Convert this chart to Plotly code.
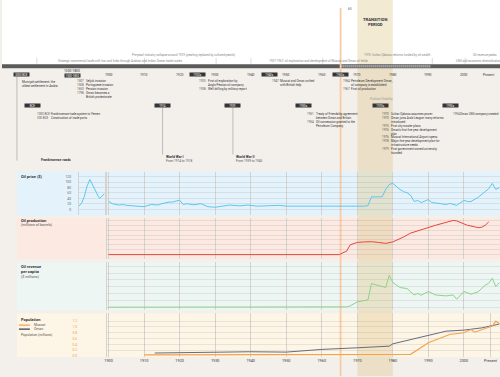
import plotly.graph_objects as go

W, H = 500, 377

# ---------------- DATA ----------------
price_early_years = [1861, 1865, 1869, 1873, 1877, 1881, 1885, 1889, 1891, 1895, 1898]
price_early = [11, 22, 47, 85, 109, 88, 65, 48, 40, 50, 58]
price_years = [1900, 1901, 1903, 1904, 1905, 1909, 1910, 1912, 1914, 1915, 1917, 1918, 1920, 1921, 1922,
               1924, 1926, 1928, 1930, 1932, 1934, 1937, 1939, 1942, 1946, 1947, 1948, 1950, 1959, 1962,
               1971, 1972, 1973, 1974, 1976, 1977, 1978, 1979, 1980, 1981, 1982, 1983, 1984, 1985, 1986,
               1987, 1988, 1990, 1991, 1993, 1995, 1996, 1998, 2000, 2001, 2002, 2004, 2006, 2007, 2008,
               2009, 2010]
price = [30, 21, 16, 18, 15, 12, 10, 18, 16, 21, 27, 27, 34, 18, 21,
         17, 21, 10, 8, 12, 16, 13, 16, 12, 15, 16, 15, 12, 12, 10,
         10, 12, 14, 46, 46, 46, 73, 91, 95, 83, 73, 65, 61, 52, 29,
         33, 25, 36, 25, 22, 18, 22, 15, 33, 29, 29, 44, 65, 76, 95,
         73, 80]

prod_years = [1900, 1965, 1966, 1967, 1968, 1969, 1970, 1972, 1974, 1976, 1978, 1980, 1981, 1983, 1985,
              1987, 1990, 1992, 1995, 1997, 1998, 2000, 2001, 2003, 2004, 2005, 2006, 2007]
prod = [0, 0, 20, 35, 100, 115, 125, 130, 132, 125, 115, 130, 145, 180, 220,
        245, 275, 300, 330, 350, 345, 310, 300, 285, 275, 280, 300, 335]

rev_years = [1900, 1965, 1967, 1968, 1970, 1973, 1974, 1977, 1978, 1979, 1980, 1982, 1984, 1986, 1987,
             1988, 1990, 1992, 1995, 1997, 1998, 2000, 2002, 2004, 2006, 2007, 2008, 2009, 2010]
rev = [0, 0, 90, 380, 1550, 2140, 6930, 6060, 5770, 9370, 7230, 5770, 5470, 3600, 4010,
       3510, 4600, 3600, 3310, 3600, 2340, 4600, 3810, 4500, 6440, 7020, 8480, 6060, 7230]

oman_years = [1913, 1930, 1940, 1950, 1960, 1970, 1979, 1980, 1990, 1995, 2000, 2005, 2010]
oman_pop = [0.26, 0.32, 0.37, 0.34, 0.57, 0.71, 0.85, 1.05, 1.80, 2.14, 2.23, 2.42, 2.75]

muscat_years = [1910, 1985, 1990, 1996, 2000, 2002, 2003, 2005, 2008, 2009, 2010]
muscat_pop = [0.04, 0.06, 0.46, 0.74, 0.80, 0.91, 0.82, 0.91, 1.03, 1.20, 1.11]

# tick labels
price_ticks = [0, 20, 40, 60, 80, 100, 120]
prod_ticks = [0, 50, 100, 150, 200, 250, 300, 350]
rev_ticks = [0, 2000, 4000, 6000, 8000, 10000, 12000]
pop_ticks = [0, 0.5, 1.0, 1.5, 2.0, 2.5, 3.0]
pop_tick_text = ['0.0', '0.50', '1.00', '1.50', '2.00', '2.50', '3.00']
muscat_ticks = [0, 0.2, 0.4, 0.6, 0.8, 1.0, 1.2]
muscat_tick_text = ['0.0', '0.2', '0.4', '0.6', '0.8', '1.0', '1.2']
decade_years = list(range(1900, 2001, 10))
bottom_years = decade_years + [2007.5]
bottom_labels = [str(y) for y in decade_years] + ['Present']
early_tick_years = [1861, 1891]
early_tick_labels = ['1861', '1899']
timeline_years = decade_years + [2007]
timeline_labels = [str(y) for y in decade_years] + ['Present']

# ---------------- helpers ----------------
def X(px):
    return px / W

def Y(py):
    return 1 - py / H

FONT = 'Roboto'
EARLY_RANGE = [1861, 1898]
MAIN_RANGE = [1899.44, 2010.17]

def yrange(top, bot, y0, y1, v1):
    s = (y0 - y1) / v1
    return [(y0 - bot) / s, (y0 - top) / s]

panels = [
    dict(top=172, bot=216, bg='#e4f3fb', rng=yrange(172, 216, 210, 177, 120), ticks=price_ticks,
         text=[str(t) for t in price_ticks]),
    dict(top=219, bot=260, bg='#fbe9e2', rng=yrange(219, 260, 255.3, 221, 350), ticks=prod_ticks,
         text=[str(t) for t in prod_ticks]),
    dict(top=263, bot=311, bg='#eef6f3', rng=yrange(263, 311, 308, 267, 12000), ticks=rev_ticks,
         text=['{:,}'.format(t) for t in rev_ticks]),
    dict(top=314, bot=358, bg='#fdf5e6', rng=yrange(314, 358, 357, 322, 3.0), ticks=pop_ticks,
         text=pop_tick_text),
]
muscat_rng = yrange(314, 358, 357, 322, 1.2)

fig = go.Figure()

# traces
fig.add_trace(go.Scatter(x=price_early_years, y=price_early, xaxis='x', yaxis='y', mode='lines',
                         line=dict(color='#5cc6ee', width=1), hoverinfo='skip'))
fig.add_trace(go.Scatter(x=price_years, y=price, xaxis='x2', yaxis='y2', mode='lines',
                         line=dict(color='#5cc6ee', width=1), hoverinfo='skip'))
fig.add_trace(go.Scatter(x=prod_years, y=prod, xaxis='x4', yaxis='y4', mode='lines',
                         line=dict(color='#e8463c', width=1), hoverinfo='skip'))
fig.add_trace(go.Scatter(x=rev_years, y=rev, xaxis='x6', yaxis='y6', mode='lines',
                         line=dict(color='#8ed28c', width=1), hoverinfo='skip'))
fig.add_trace(go.Scatter(x=oman_years, y=oman_pop, xaxis='x8', yaxis='y8', mode='lines',
                         line=dict(color='#676b7c', width=1), hoverinfo='skip'))
fig.add_trace(go.Scatter(x=muscat_years, y=muscat_pop, xaxis='x8', yaxis='y9', mode='lines',
                         line=dict(color='#f5a34e', width=1.2), hoverinfo='skip'))

layout = dict(
    width=W, height=H, margin=dict(l=0, r=0, t=0, b=0), showlegend=False,
    paper_bgcolor='#f3efeb', plot_bgcolor='rgba(0,0,0,0)',
    font=dict(family=FONT, size=4, color='#444'),
)
GRID = 'rgba(120,120,120,0.15)'
VLINE = '#d6d3cf'
for i, p in enumerate(panels):
    a, b = 2 * i + 1, 2 * i + 2
    dom = [Y(p['bot']), Y(p['top'])]
    last = (i == 3)
    layout['xaxis' if a == 1 else f'xaxis{a}'] = dict(
        domain=[X(77), X(103)], range=EARLY_RANGE, anchor=f'y{a}' if a > 1 else 'y',
        showgrid=False, zeroline=False, ticks='',
        showticklabels=last, tickvals=early_tick_years, ticktext=early_tick_labels,
        tickfont=dict(size=3.8, color='#333'))
    layout[f'xaxis{b}'] = dict(
        domain=[X(105), 1], range=MAIN_RANGE, anchor=f'y{b}',
        showgrid=True, gridcolor=VLINE, gridwidth=1, zeroline=False,
        ticks='', showticklabels=last,
        tickvals=bottom_years if last else decade_years,
        ticktext=bottom_labels if last else [str(y) for y in decade_years],
        tickfont=dict(size=3.8, color='#333'))
    layout['yaxis' if a == 1 else f'yaxis{a}'] = dict(
        domain=dom, range=p['rng'], anchor='x' if a == 1 else f'x{a}',
        tickvals=p['ticks'], ticktext=p['text'], ticks='outside',
        ticklen=10 if last else 6, tickcolor='rgba(0,0,0,0)',
        tickfont=dict(size=3.3, color='#666'), showgrid=True, gridcolor=GRID, gridwidth=1,
        zeroline=False, showline=True, mirror=True, linecolor=VLINE, linewidth=1)
    layout[f'yaxis{b}'] = dict(
        domain=dom, range=p['rng'], anchor=f'x{b}', tickvals=p['ticks'],
        showticklabels=False, ticks='', showgrid=True, gridcolor=GRID, gridwidth=1,
        zeroline=False, showline=True, linecolor=VLINE, linewidth=1)
layout['yaxis9'] = dict(
    overlaying='y8', range=muscat_rng, anchor='free', position=X(77), side='left',
    tickvals=muscat_ticks, ticktext=muscat_tick_text, ticks='outside', ticklen=1,
    tickcolor='rgba(0,0,0,0)', tickfont=dict(size=3.3, color='#f0a050'), showgrid=False,
    zeroline=False, showline=False)

shapes = []
# white top area
shapes.append(dict(type='rect', xref='paper', yref='paper', x0=0, x1=1, y0=Y(65), y1=1,
                   fillcolor='white', line=dict(width=0), layer='below'))
# panel backgrounds
for p in panels:
    shapes.append(dict(type='rect', xref='paper', yref='paper', x0=X(15), x1=1,
                       y0=Y(p['bot']), y1=Y(p['top']), fillcolor=p['bg'], line=dict(width=0),
                       layer='below'))
# transition period band
shapes.append(dict(type='rect', xref='x8', yref='paper', x0=1970, x1=1980, y0=0, y1=1,
                   fillcolor='rgba(222,198,135,0.36)', line=dict(width=0), layer='below'))
# timeline bar
shapes.append(dict(type='rect', xref='paper', yref='paper', x0=0, x1=1, y0=Y(68.5), y1=Y(64.5),
                   fillcolor='#5b5b5b', line=dict(width=0), layer='below'))
shapes.append(dict(type='line', xref='x8', yref='paper', x0=1965.3, x1=1990.7, y0=Y(66.5), y1=Y(66.5),
                   line=dict(color='#cfcfcf', width=2.5, dash='1px,1px'), layer='below'))
# orange marker line
shapes.append(dict(type='line', xref='x8', yref='paper', x0=1965.3, x1=1965.3, y0=0, y1=Y(8),
                   line=dict(color='#f7cba6', width=1.8), layer='below'))
# event lines
shapes.append(dict(type='line', xref='paper', yref='paper', x0=X(15), x1=X(15), y0=Y(161), y1=Y(77),
                   line=dict(color='#b0b0b0', width=0.8), layer='below'))
for yr in [1915.2, 1935.0]:
    shapes.append(dict(type='line', xref='x8', yref='paper', x0=yr, x1=yr, y0=Y(155), y1=Y(108),
                       line=dict(color='#b0b0b0', width=0.8), layer='below'))
# small top ticks
for xp in [35, 143, 215, 250, 322, 432, 465]:
    shapes.append(dict(type='line', xref='paper', yref='paper', x0=X(xp), x1=X(xp), y0=Y(64), y1=Y(58),
                       line=dict(color='#d0d0d0', width=0.8), layer='below'))
# population legend swatches
shapes.append(dict(type='line', xref='paper', yref='paper', x0=X(17), x1=X(28), y0=Y(326), y1=Y(326),
                   line=dict(color='#f5a34e', width=1.3)))
shapes.append(dict(type='line', xref='paper', yref='paper', x0=X(17), x1=X(28), y0=Y(330), y1=Y(330),
                   line=dict(color='#3f4358', width=1.3)))
layout['shapes'] = shapes

ann = []

def text(x, y, s, size=3.3, color='#333', xanchor='left', xref='paper', yanchor='middle', xshift=0):
    ann.append(dict(x=x if xref != 'paper' else X(x), xref=xref, y=Y(y), yref='paper', text=s,
                    showarrow=False, font=dict(size=size, color=color, family=FONT),
                    xanchor=xanchor, yanchor=yanchor, align='left', xshift=xshift))

def box(x, y, label, xref='paper'):
    ann.append(dict(x=x if xref != 'paper' else X(x), xref=xref, y=Y(y), yref='paper', text=label,
                    showarrow=False, font=dict(size=2.8, color='white', family=FONT),
                    bgcolor='#353535', width=15, height=3.2, borderpad=0,
                    xanchor='center', yanchor='middle'))

def block(x, y, years, lines, xref='paper', gap=8.5):
    text(x, y, '<br>'.join(years), size=3.0, color='#555', xref=xref, yanchor='top')
    text(x, y, '<br>'.join(lines), size=3.0, color='#333', xref=xref, yanchor='top', xshift=gap)

# timeline labels
text(70, 71, '1500-1800', size=3.3, xanchor='center')
for yr, lab in zip(timeline_years, timeline_labels):
    ann.append(dict(x=yr, xref='x8', y=Y(71), yref='paper', text=lab, showarrow=False,
                    font=dict(size=3.3, color='#333', family=FONT), xanchor='center'))

# top notes
text(182, 55, 'Pre-pearl industry collapse around 1929 (pearling replaced by cultured pearls)',
     size=3.0, color='#888', xanchor='center')
text(118, 61, 'Strategic commercial trade with Iran and India through Arabian and Indian Ocean trade routes',
     size=3.0, color='#888', xanchor='center')
text(318, 61, '1937-1967: oil exploration and development of Muscat and Oman oil fields',
     size=3.0, color='#888', xanchor='center')
text(397, 55, '1970: Sultan Qaboos reforms funded by oil wealth', size=3.0, color='#888', xanchor='center')
text(485, 55, 'Oil revenue peaks', size=3.0, color='#888', xanchor='center')
text(478, 61, 'LNG and economic diversification', size=3.0, color='#888', xanchor='center')
text(345, 9, '65', size=3.2, color='#555')
ann.append(dict(x=1975, xref='x8', y=Y(15), yref='paper', text='<b>TRANSITION<br>PERIOD</b>',
                showarrow=False, font=dict(size=4.2, color='#333', family=FONT), xanchor='center'))

# row 1 events
box(19.5, 75, '3000 BCE')
text(18.3, 78, 'Mumiyah settlement: the<br>oldest settlement in Arabia', size=3.0, yanchor='top')
box(71, 75.5, '1500-1800')
block(73.3, 77.5, ['1507', '1508', '1650', '1798', ''],
      ['Seljuk invasion', 'Portuguese invasion', 'Persian invasion', 'Oman becomes a',
       'British protectorate'])
box(1925, 75, '1920s', xref='x8')
block(1925, 77.5, ['1925', '', '1938'],
      ['First oil exploration by', 'Anglo-Persian oil company', 'Well drilling by military report'],
      xref='x8')
box(1945.3, 75, '1940s', xref='x8')
block(1945.3, 77.5, ['1947', ''], ['Muscat and Oman unified', 'with British help'], xref='x8')
box(1965.3, 75, '1960s', xref='x8')
block(1965.3, 77.5, ['1964', '', '1967'],
      ['Petroleum Development Oman,', 'oil company is established', 'First oil production'], xref='x8')

# row 2 events
box(31, 106, 'BCE')
block(33, 110.5, ['1000 BCE', '300 BCE'],
      ['Frankincense trade system to Yemen', 'Construction of trade ports'], gap=14)
box(1915.2, 106, '1914', xref='x8')
box(1935.0, 106, '1939', xref='x8')
box(1955, 106, '1950s', xref='x8')
block(1955.4, 110.5, ['1951', '', '1954', ''],
      ['Treaty of Friendship agreement', 'between Oman and Britain', 'Oil concession granted to the',
       'Petroleum Company'], xref='x8')
box(1976.5, 106, '1970s', xref='x8')
block(1976.5, 110.5, ['1970', '1970', '', '1975', '1976', '', '1976', '1978', '', '1979', ''],
      ['Sultan Qaboos assumes power', 'Oman joins Arab League; many reforms', 'introduced',
       'First city master plans', "Oman's first five-year development", 'plan',
       'Muscat International Airport opens', 'Major five-year development plan for',
       'infrastructure needs', 'First government-owned university', 'founded'], xref='x8')
box(1996.3, 106, '1990s', xref='x8')
block(1996.3, 110.5, ['1994'], ['Oman LNG company created'], xref='x8', gap=7)
ann.append(dict(x=1976.8, xref='x8', y=Y(95), yref='paper', text='<i>Political Stability</i>',
                showarrow=False, font=dict(size=3.2, color='#999', family=FONT), xanchor='center'))

# war labels
for yr, name, span in [(1915.2, 'World War I', 'From 1914 to 1918'), (1935.0, 'World War II', 'From 1939 to 1945')]:
    text(yr, 157, f'<b>{name}</b>', size=3.4, xref='x8', xshift=1)
    text(yr, 161.5, span, size=3.1, color='#555', xref='x8', xshift=1)
text(37, 160, '<b>Frankincense roads</b>', size=3.4)

# panel titles
text(17, 177, '<b>Oil price ($)</b>', size=4)
text(17, 221, '<b>Oil production</b>', size=4)
text(17, 226, '(millions of barrels)', size=3.6, color='#555')
text(17, 267, '<b>Oil revenue</b>', size=4)
text(17, 272, '<b>per capita</b>', size=4)
text(17, 277, '($ millions)', size=3.6, color='#555')
text(17, 320, '<b>Population</b>', size=4)
text(30, 326, 'Muscat', size=3.4, color='#555')
text(30, 330, 'Oman', size=3.4, color='#555')
text(17, 336, 'Population (millions)', size=3.4, color='#555')

layout['annotations'] = ann
fig.update_layout(**layout)
fig.write_html('out.html', config={'displayModeBar': False, 'staticPlot': True},
               post_script="document.body.style.margin='0';document.body.style.overflow='hidden';")
